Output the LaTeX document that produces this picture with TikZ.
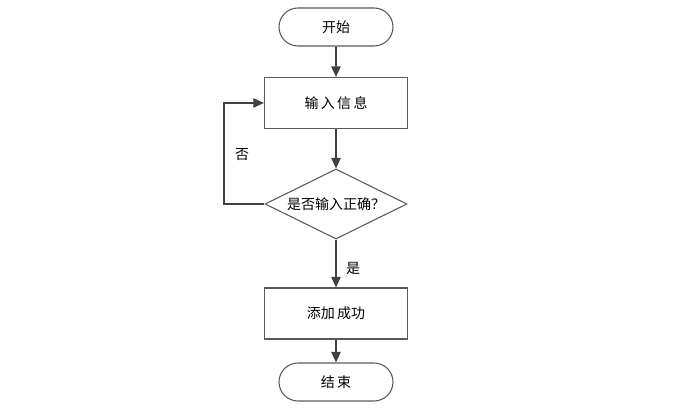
\documentclass[tikz,border=0pt]{standalone}
\usepackage{fontspec}
\newfontfamily\cjk{Noto Sans CJK SC}
\usetikzlibrary{shapes.geometric,shapes.misc,arrows.meta}
\definecolor{lc}{HTML}{404040}
\definecolor{bc}{HTML}{5A5A5A}
\begin{document}
\begin{tikzpicture}[x=0.75pt,y=-0.75pt,
  every node/.style={font=\cjk\fontsize{10.5}{12}\selectfont, text=black},
  term/.style={draw=bc, line width=0.8pt, rounded rectangle, minimum width=114*0.75pt, minimum height=38*0.75pt, inner sep=0pt},
  proc/.style={draw=bc, line width=0.8pt, rectangle, minimum width=143*0.75pt, minimum height=51*0.75pt, inner sep=0pt},
  dec/.style={draw=bc, line width=0.8pt, diamond, aspect=2.04, minimum width=142*0.75pt, minimum height=70*0.75pt, inner sep=0pt},
  conn/.style={draw=lc, line width=1.3pt, -{Triangle[length=8pt,width=7pt]}},
  lbl/.style={inner sep=0pt}]
\useasboundingbox (0,0) rectangle (695,420);
\node[term] (start) at (336,27) {开始};
\node[proc] (input) at (336,103) {输\,入\,信\,息};
\node[dec] (check) at (336,204) {是否输入正确？};
\node[proc] (ok) at (336,313.5) {添加\,成功};
\node[term] (end) at (336,382) {结\,束};
\coordinate (lb) at (224,204);
\coordinate (lt) at (224,103);
\draw[conn] (start) -- (input);
\draw[conn] (input) -- (check);
\draw[conn] (check) -- (ok);
\draw[conn] (ok) -- (end);
\draw[conn] (check.west) -- (lb) -- (lt) -- (input.west);
\node[lbl] (no) at (242,155) {否};
\node[lbl] (yes) at (353,268) {是};
\end{tikzpicture}
\end{document}
